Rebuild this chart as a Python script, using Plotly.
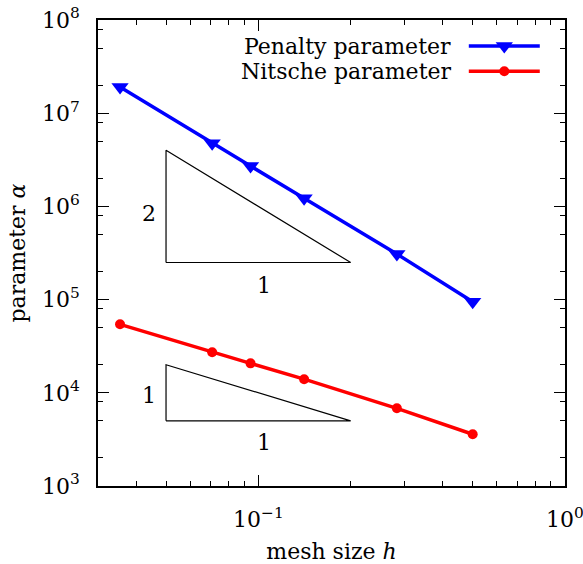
import numpy as np
import plotly.graph_objects as go

# ---- data ----
mesh_h = [0.0354, 0.0707, 0.0943, 0.141, 0.283, 0.5]
penalty_alpha = [1.91e7, 4.75e6, 2.71e6, 1.22e6, 3.08e5, 9.5e4]
nitsche_alpha = [5.43e4, 2.72e4, 2.07e4, 1.40e4, 6.82e3, 3.59e3]

# slope reference triangles (x corners, y corners)
tri2_x = [0.05, 0.05, 0.2, 0.05]
tri2_y = [2.5e5, 4e6, 2.5e5, 2.5e5]
tri1_x = [0.05, 0.05, 0.2, 0.05]
tri1_y = [5e3, 2e4, 5e3, 5e3]

y_major = [1e3, 1e4, 1e5, 1e6, 1e7, 1e8]
y_major_text = ["10<sup>%d</sup>" % e for e in range(3, 9)]
x_major = [0.1, 1.0]
x_major_text = ["10<sup>\u22121</sup>", "10<sup>0</sup>"]
x_minor = [m * 10.0 ** e for e in (-2, -1) for m in range(2, 10)]
y_minor = [m * 10.0 ** e for e in range(3, 8) for m in (2, 5, 8)]

FONT = "DejaVu Serif"
FS = 22
BLUE = "rgb(0,0,255)"
RED = "rgb(255,0,0)"

fig = go.Figure()

fig.add_trace(go.Scatter(x=mesh_h, y=penalty_alpha, mode="lines+markers",
                         line=dict(color=BLUE, width=3.5),
                         marker=dict(symbol="triangle-down", size=15, color=BLUE),
                         showlegend=False))
fig.add_trace(go.Scatter(x=mesh_h, y=nitsche_alpha, mode="lines+markers",
                         line=dict(color=RED, width=3.5),
                         marker=dict(symbol="circle", size=10, color=RED),
                         showlegend=False))

for tx, ty in ((tri2_x, tri2_y), (tri1_x, tri1_y)):
    fig.add_trace(go.Scatter(x=tx, y=ty, mode="lines",
                             line=dict(color="black", width=1.2),
                             showlegend=False, hoverinfo="skip"))

# manual legend (text left of the symbol) on an invisible overlay axis
leg_x0, leg_x1, leg_xm = 0.794, 0.946, 0.870
rows = [("Penalty parameter", BLUE, "triangle-down", 15, 0.944),
        ("Nitsche parameter", RED, "circle", 10, 0.890)]
for name, col, sym, sz, yy in rows:
    fig.add_trace(go.Scatter(x=[leg_x0, leg_x1], y=[yy, yy], mode="lines",
                             line=dict(color=col, width=3.5),
                             xaxis="x2", yaxis="y2", showlegend=False, hoverinfo="skip"))
    fig.add_trace(go.Scatter(x=[leg_xm], y=[yy], mode="markers",
                             marker=dict(symbol=sym, size=sz, color=col),
                             xaxis="x2", yaxis="y2", showlegend=False, hoverinfo="skip"))
    fig.add_annotation(x=0.760, y=yy, xref="paper", yref="paper", text=name,
                       showarrow=False, xanchor="right", yanchor="middle",
                       font=dict(family=FONT, size=FS, color="black"))

# triangle labels
def lg(v):
    return float(np.log10(v))

ann = [
    ("2", lg(0.05), 0.5 * (lg(2.5e5) + lg(4e6)), -17, -7),
    ("1", lg(0.1), lg(2.5e5), 6, -23),
    ("1", lg(0.05), 0.5 * (lg(5e3) + lg(2e4)), -17, -3),
    ("1", lg(0.1), lg(5e3), 6, -22),
]
for t, ax_, ay_, xs, ys in ann:
    fig.add_annotation(x=ax_, y=ay_, xref="x", yref="y", text=t, showarrow=False,
                       xanchor="center", yanchor="middle", xshift=xs, yshift=ys,
                       font=dict(family=FONT, size=FS, color="black"))

axis_common = dict(
    type="log", showline=True, linecolor="black", linewidth=1.5, mirror="ticks",
    ticks="inside", ticklen=11, tickwidth=1.2, tickcolor="black",
    showgrid=False, zeroline=False, automargin=False, ticklabeloverflow="allow",
    tickfont=dict(family=FONT, size=FS, color="black"),
)

fig.update_layout(
    width=583, height=564,
    margin=dict(l=98, r=18, t=20, b=78),
    paper_bgcolor="white", plot_bgcolor="white",
    font=dict(family=FONT, size=FS, color="black"),
    xaxis=dict(**axis_common, range=[lg(0.03), 0],
               tickmode="array", tickvals=x_major, ticktext=x_major_text,
               minor=dict(tickmode="array", tickvals=x_minor, ticks="inside",
                          ticklen=5, tickwidth=1, tickcolor="black"),
               ticklabelstandoff=13,
               title=dict(text="mesh size <i>h</i>", font=dict(family=FONT, size=FS),
                          standoff=12)),
    yaxis=dict(**axis_common, range=[3, 8],
               tickmode="array", tickvals=y_major, ticktext=y_major_text,
               minor=dict(tickmode="array", tickvals=y_minor, ticks="inside",
                          ticklen=5, tickwidth=1, tickcolor="black"),
               ticklabelstandoff=12,
               title=dict(text="parameter <i>α</i>", font=dict(family=FONT, size=FS),
                          standoff=10)),
    xaxis2=dict(overlaying="x", range=[0, 1], visible=False),
    yaxis2=dict(overlaying="y", range=[0, 1], visible=False),
    showlegend=False,
)

fig.write_html("out.html", config={"displayModeBar": False},
               post_script="document.body.style.margin='0px';document.body.style.padding='0px';")
